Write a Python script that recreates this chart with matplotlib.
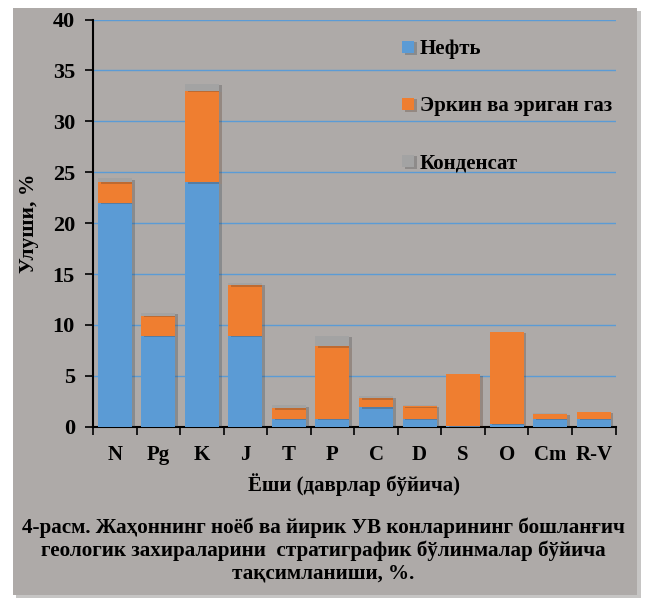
import numpy as np
import matplotlib
matplotlib.use("Agg")
import matplotlib.pyplot as plt
from matplotlib.patches import Rectangle
import matplotlib.patheffects as pe

plt.rcParams['font.family'] = ['Liberation Serif', 'DejaVu Serif']
plt.rcParams['font.weight'] = 'bold'

# data (%)
periods = ['N', 'Pg', 'K', 'J', 'T', 'P', 'C', 'D', 'S', 'O', 'Cm', 'R-V']
oil = [22.0, 8.9, 24.0, 8.9, 0.8, 0.8, 1.9, 0.8, 0.05, 0.3, 0.8, 0.8]
gas = [2.0, 2.0, 9.0, 5.0, 1.0, 7.1, 0.9, 1.2, 5.1, 9.0, 0.45, 0.65]
cond = [0.4, 0.3, 0.7, 0.2, 0.3, 1.0, 0.2, 0.1, 0.0, 0.0, 0.05, 0.0]
labels = ['Нефть', 'Эркин ва эриган газ', 'Конденсат']

bg = '#aeaaa8'
c_oil = '#5b9bd5'
c_gas = '#ef7e30'
c_cond = '#a3a3a3'

fig = plt.figure(figsize=(6.46, 5.98), dpi=100, facecolor='white')
# grey panel with a shadow on the right
fig.patches.append(Rectangle((16/646, 1-598/598), 625/646, 587/598, transform=fig.transFigure,
                             facecolor='#8f8c8a', edgecolor='none', alpha=0.5, zorder=-2))
fig.patches.append(Rectangle((13/646, 1-595/598), 624/646, 587/598, transform=fig.transFigure,
                             facecolor=bg, edgecolor='none', zorder=-1))

ax = fig.add_axes([93/646, 1-426.7/598, 522.5/646, 407.2/598])
ax.set_facecolor('none')

x = np.arange(len(periods))
w = 0.78
shadow = [pe.SimplePatchShadow(offset=(2, -1), alpha=0.25), pe.Normal()]
b1 = ax.bar(x, oil, w, color=c_oil, label=labels[0], zorder=3)
b2 = ax.bar(x, gas, w, bottom=oil, color=c_gas, label=labels[1], zorder=3)
b3 = ax.bar(x, cond, w, bottom=np.array(oil)+np.array(gas), color=c_cond, label=labels[2], zorder=3)
for bars in (b1, b2, b3):
    for b in bars:
        b.set_path_effects(shadow)

ax.set_xlim(-0.5, len(periods)-0.5)
ax.set_ylim(0, 40)
ax.set_yticks(np.arange(0, 41, 5))
ax.yaxis.grid(True, color='#5b9bd5', lw=1.0, zorder=0)
ax.set_axisbelow(True)

ax.set_xticks(x)
ax.set_xticklabels(periods, fontsize=15, fontweight='bold')
ax.set_xticks(np.arange(-0.5, len(periods), 1), minor=True)
ax.tick_params(axis='x', which='major', length=0, pad=13)
ax.tick_params(axis='x', which='minor', length=6, width=1.2, direction='out')
ax.tick_params(axis='y', length=6, width=1.2, pad=7, labelsize=16)
for t in ax.get_yticklabels():
    t.set_fontweight('bold')

for s in ('top', 'right'):
    ax.spines[s].set_visible(False)
for s in ('left', 'bottom'):
    ax.spines[s].set_linewidth(1.5)

ax.set_ylabel('Улуши, %', fontsize=15.5, fontweight='bold', labelpad=10)
ax.set_xlabel('Ёши (даврлар бўйича)', fontsize=15, fontweight='bold', labelpad=6)

leg = ax.legend(loc='upper left', bbox_to_anchor=(392/646, 1-29/598), bbox_transform=fig.transFigure,
                frameon=False, fontsize=15, handlelength=0.55, handleheight=0.55,
                handletextpad=0.3, labelspacing=1.78, borderpad=0)

caption = ['4-расм. Жаҳоннинг ноёб ва йирик УВ конларининг бошланғич',
           'геологик захираларини  стратиграфик бўлинмалар бўйича',
           'тақсимланиши, %.']
for i, line in enumerate(caption):
    fig.text(323/646, 1-(528+22.5*i)/598, line, ha='center', va='center',
             fontsize=15.2, fontweight='bold')

fig.savefig('out.png', dpi=100, facecolor='white')
